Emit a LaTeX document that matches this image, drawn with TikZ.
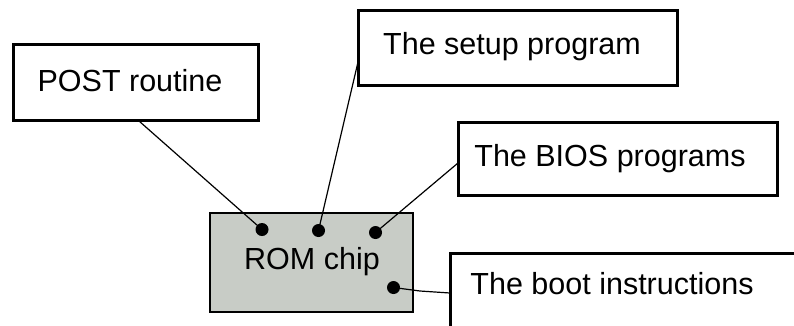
\documentclass[tikz,border=0pt]{standalone}
\usepackage{fontspec}
\setmainfont{Liberation Sans}
\definecolor{romgray}{RGB}{200,204,198}
\begin{document}
\begin{tikzpicture}[x=1pt,y=-1pt,
  labelbox/.style={draw=black, line width=3pt, fill=white, inner sep=0pt},
  txt/.style={font=\fontsize{30.5}{36}\selectfont, inner sep=0pt},
  chip/.style={draw=black, line width=1.5pt, fill=romgray, inner sep=0pt},
  pin/.style={circle, fill=black, inner sep=0pt, minimum size=13pt},
  wire/.style={line width=1.2pt}]
\useasboundingbox (0,0) rectangle (794,325);
\begin{scope}
\clip (0,0) rectangle (794,325);
% ROM chip
\node[chip, minimum width=203pt, minimum height=99pt] (rom) at (311.5,262.5) {};
\node[txt] (romtxt) at (312,262) {ROM chip};
% label boxes
\node[labelbox, minimum width=245pt, minimum height=76pt] (post) at (136,82) {};
\node[txt] (posttxt) at (130,81) {POST routine};
\node[labelbox, minimum width=319pt, minimum height=75pt] (setup) at (517.5,47.5) {};
\node[txt] (setuptxt) at (512,47) {The setup program};
\node[labelbox, minimum width=319pt, minimum height=73pt] (bios) at (617.5,158.5) {};
\node[txt] (biostxt) at (610,159) {The BIOS programs};
\node[labelbox, minimum width=346pt, minimum height=90pt] (boot) at (623,298) {};
\node[txt] (boottxt) at (612,284) {The boot instructions};
% pins
\node[pin] (d1) at (262,229.5) {};
\node[pin] (d2) at (318.5,230.5) {};
\node[pin] (d3) at (375.5,232.5) {};
\node[pin] (d4) at (393.5,287.5) {};
% attachment points
\coordinate (a1) at (139,121);
\coordinate (a2) at (358,62);
\coordinate (a3) at (458,163);
\coordinate (a4) at (450,293);
\draw[wire] (a1) -- (d1.center);
\draw[wire] (a2) -- (d2.center);
\draw[wire] (a3) -- (d3.center);
\draw[wire] (d4.center) -- (420,291) -- (a4);
\end{scope}
\end{tikzpicture}
\end{document}
